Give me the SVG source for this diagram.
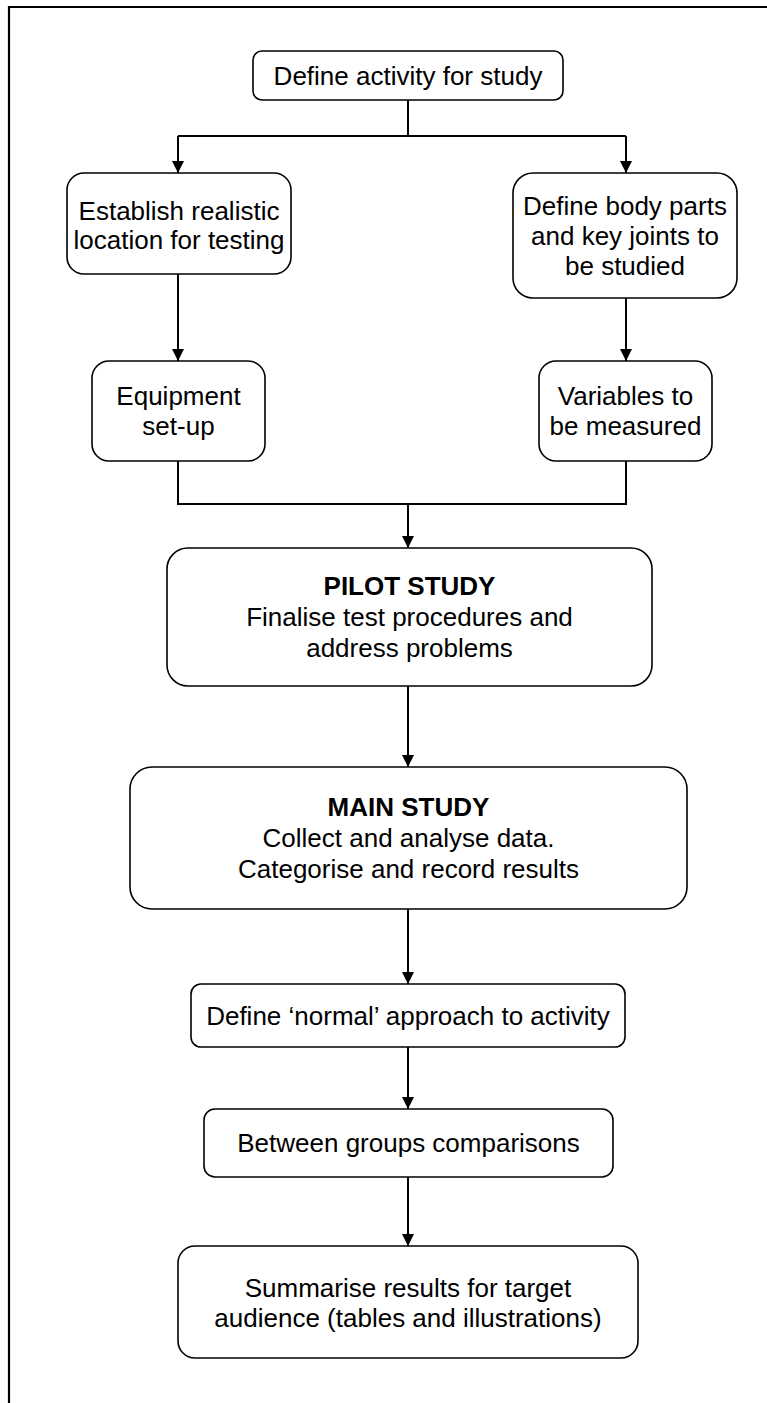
<svg xmlns="http://www.w3.org/2000/svg" width="767" height="1403" viewBox="0 0 767 1403">
  <style>
    .box { fill: #ffffff; stroke: #000000; stroke-width: 1.6; }
    .lbl { font-family: "Liberation Sans", Arial, Helvetica, sans-serif; font-size: 26px; fill: #000000; text-anchor: middle; }
    .bold { font-weight: bold; }
    .wire { fill: none; stroke: #000000; stroke-width: 2; }
    .frame { fill: none; stroke: #000000; stroke-width: 2.2; }
  </style>
  <defs>
    <marker id="arrow" markerUnits="userSpaceOnUse" markerWidth="12" markerHeight="13" refX="12" refY="6" orient="auto">
      <path d="M0,0 L12,6 L0,12 Z" fill="#000000"/>
    </marker>
  </defs>

  <rect width="767" height="1403" fill="#ffffff"/>

  <!-- page frame: top and left rules -->
  <path class="frame" d="M9,1403 V7 H767"/>

  <!-- connectors -->
  <g id="connectors">
    <path class="wire" d="M408,100 V136"/>
    <path class="wire" d="M178,136 H626"/>
    <path class="wire" d="M178,136 V173" marker-end="url(#arrow)"/>
    <path class="wire" d="M626,136 V173" marker-end="url(#arrow)"/>
    <path class="wire" d="M178,274 V361" marker-end="url(#arrow)"/>
    <path class="wire" d="M626,298 V361" marker-end="url(#arrow)"/>
    <path class="wire" d="M178,461 V504 H626 V461"/>
    <path class="wire" d="M408,504 V548" marker-end="url(#arrow)"/>
    <path class="wire" d="M408,686 V767" marker-end="url(#arrow)"/>
    <path class="wire" d="M408,909 V984" marker-end="url(#arrow)"/>
    <path class="wire" d="M408,1047 V1109" marker-end="url(#arrow)"/>
    <path class="wire" d="M408,1177 V1246" marker-end="url(#arrow)"/>
  </g>

  <g id="define-activity">
    <rect class="box" x="253" y="51" width="310" height="49" rx="9"/>
    <text class="lbl" x="408" y="85">Define activity for study</text>
  </g>

  <g id="establish-location">
    <rect class="box" x="67" y="173" width="224" height="101" rx="17"/>
    <text class="lbl" x="179" y="220">Establish realistic</text>
    <text class="lbl" x="179" y="249">location for testing</text>
  </g>

  <g id="define-body-parts">
    <rect class="box" x="513" y="173" width="224" height="125" rx="20"/>
    <text class="lbl" x="625" y="215">Define body parts</text>
    <text class="lbl" x="625" y="245">and key joints to</text>
    <text class="lbl" x="625" y="275">be studied</text>
  </g>

  <g id="equipment-setup">
    <rect class="box" x="92" y="361" width="173" height="100" rx="17"/>
    <text class="lbl" x="178.5" y="405">Equipment</text>
    <text class="lbl" x="178.5" y="435">set-up</text>
  </g>

  <g id="variables">
    <rect class="box" x="539" y="361" width="173" height="100" rx="17"/>
    <text class="lbl" x="625.5" y="405">Variables to</text>
    <text class="lbl" x="625.5" y="435">be measured</text>
  </g>

  <g id="pilot-study">
    <rect class="box" x="167" y="548" width="485" height="138" rx="21"/>
    <text class="lbl bold" x="409.5" y="595">PILOT STUDY</text>
    <text class="lbl" x="409.5" y="626">Finalise test procedures and</text>
    <text class="lbl" x="409.5" y="657">address problems</text>
  </g>

  <g id="main-study">
    <rect class="box" x="130" y="767" width="557" height="142" rx="22"/>
    <text class="lbl bold" x="408.5" y="816">MAIN STUDY</text>
    <text class="lbl" x="408.5" y="847">Collect and analyse data.</text>
    <text class="lbl" x="408.5" y="878">Categorise and record results</text>
  </g>

  <g id="define-normal">
    <rect class="box" x="191" y="984" width="434" height="63" rx="10"/>
    <text class="lbl" x="408" y="1025">Define ‘normal’ approach to activity</text>
  </g>

  <g id="between-groups">
    <rect class="box" x="204" y="1109" width="409" height="68" rx="11"/>
    <text class="lbl" x="408.5" y="1152">Between groups comparisons</text>
  </g>

  <g id="summarise-results">
    <rect class="box" x="178" y="1246" width="460" height="112" rx="17"/>
    <text class="lbl" x="408" y="1297">Summarise results for target</text>
    <text class="lbl" x="408" y="1327">audience (tables and illustrations)</text>
  </g>
</svg>
